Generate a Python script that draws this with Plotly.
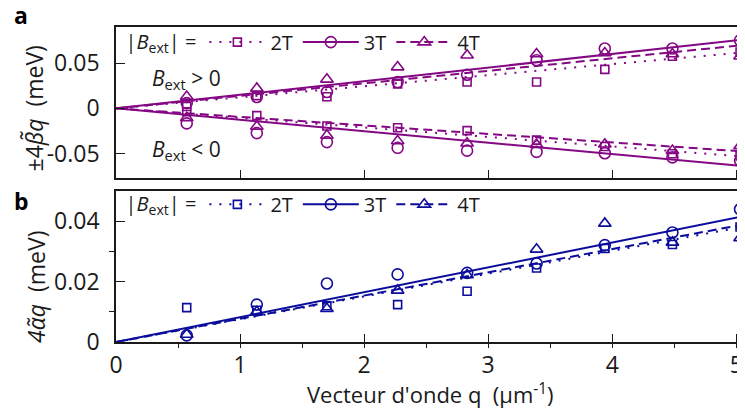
import plotly.graph_objects as go

# ---------------- data ----------------
q = [0.57, 1.135, 1.70, 2.27, 2.83, 3.39, 3.94, 4.485, 5.03]

# panel a : +/- 4 beta q (meV)
beta_pos_2T = [0.002, 0.014, 0.0128, 0.027, 0.029, 0.029, 0.043, 0.0575, 0.062]
beta_pos_3T = [0.0058, 0.0125, 0.018, 0.029, 0.037, 0.053, 0.066, 0.066, 0.075]
beta_pos_4T = [0.013, 0.022, 0.032, 0.0455, 0.0586, 0.060, 0.061, 0.060, 0.0575]
beta_neg_2T = [-0.0037, -0.0080, -0.0195, -0.0213, -0.0246, -0.035, -0.042, -0.050, -0.0524]
beta_neg_3T = [-0.0165, -0.0273, -0.0372, -0.0435, -0.0466, -0.048, -0.0495, -0.054, -0.0576]
beta_neg_4T = [-0.0105, -0.020, -0.030, -0.036, -0.0385, -0.040, -0.0396, -0.0466, -0.0414]

# fitted slopes (meV per um^-1)
slope_pos = {"2T": 0.0122, "3T": 0.0150, "4T": 0.0138}
slope_neg = {"2T": -0.0105, "3T": -0.0126, "4T": -0.0094}

# panel b : 4 alpha q (meV)
alpha_2T = [0.0114, 0.0105, 0.0120, 0.0124, 0.0168, 0.0245, 0.031, 0.0323, 0.0381]
alpha_3T = [0.0022, 0.0124, 0.0194, 0.0224, 0.0229, 0.026, 0.0321, 0.0363, 0.044]
alpha_4T = [0.0025, 0.0100, 0.0110, 0.0171, 0.0222, 0.0307, 0.0393, 0.033, 0.0345]
slope_alpha = {"2T": 0.00755, "3T": 0.00824, "4T": 0.00770}

fit_x = [0, 5.2]
x_ticks = [0, 1, 2, 3, 4, 5]
ya_ticks = [-0.05, 0, 0.05]
ya_labels = ["-0.05", "0", "0.05"]
yb_ticks = [0, 0.02, 0.04]
yb_labels = ["0", "0.02", "0.04"]

# ---------------- style ----------------
PURPLE = "#840884"
BLUE = "#0c0c9c"
FONT = "Open Sans"
INK = "#1a1a1a"
styles = {
    "2T": dict(symbol="square-open", size=8, dash="2px,8px"),
    "3T": dict(symbol="circle-open", size=11, dash="solid"),
    "4T": dict(symbol="triangle-up-open", size=11, dash="9px,5px"),
}

fig = go.Figure()

def add_panel(color, xa, ya, legend, series, slopes_list):
    for name in ["2T", "3T", "4T"]:
        st = styles[name]
        for slopes in slopes_list:
            fig.add_trace(go.Scatter(
                x=fit_x, y=[slopes[name] * v for v in fit_x], mode="lines",
                line=dict(color=color, width=2, dash=st["dash"]),
                xaxis=xa, yaxis=ya, showlegend=False, hoverinfo="skip"))
        for ys in series[name]:
            fig.add_trace(go.Scatter(
                x=q, y=ys, mode="markers",
                marker=dict(symbol=st["symbol"], size=st["size"], color=color,
                            line=dict(width=1.6, color=color)),
                xaxis=xa, yaxis=ya, showlegend=False))
        # legend entry
        fig.add_trace(go.Scatter(
            x=[None], y=[None], mode="lines+markers", name=name,
            line=dict(color=color, width=2, dash=st["dash"]),
            marker=dict(symbol=st["symbol"], size=st["size"], color=color,
                        line=dict(width=1.6, color=color)),
            xaxis=xa, yaxis=ya, legend=legend, showlegend=True))

add_panel(PURPLE, "x", "y", "legend",
          {"2T": [beta_pos_2T, beta_neg_2T], "3T": [beta_pos_3T, beta_neg_3T],
           "4T": [beta_pos_4T, beta_neg_4T]},
          [slope_pos, slope_neg])
add_panel(BLUE, "x2", "y2", "legend2",
          {"2T": [alpha_2T], "3T": [alpha_3T], "4T": [alpha_4T]},
          [slope_alpha])

axis_common = dict(showline=True, linecolor=INK, linewidth=1.6,
                   ticks="inside", tickcolor=INK, tickwidth=1.4,
                   showgrid=False, zeroline=False, automargin=False,
                   tickfont=dict(family=FONT, size=23, color=INK))

legend_common = dict(orientation="h", bgcolor="rgba(0,0,0,0)", xanchor="left",
                     yanchor="middle", itemwidth=56, traceorder="normal",
                     font=dict(family=FONT, size=20, color=INK),
                     itemclick=False)

# the page body has an 8px margin, so the figure is 8px smaller than the window
fig.update_layout(
    width=737, height=400,
    margin=dict(l=108, r=0, t=19, b=66),
    paper_bgcolor="white", plot_bgcolor="white",
    showlegend=True,
    xaxis=dict(domain=[0, 1], range=[0, 5.07], anchor="y", tickvals=x_ticks,
               showticklabels=False, ticklen=8, mirror=True, **axis_common),
    yaxis=dict(domain=[0.52, 1], range=[-0.077, 0.0897], anchor="x",
               tickvals=ya_ticks, ticktext=ya_labels, ticklen=9,
               ticklabelstandoff=10, **axis_common),
    xaxis2=dict(domain=[0, 1], range=[0, 5.07], anchor="y2", tickvals=x_ticks,
                ticklen=8, mirror=True, ticklabelstandoff=2,
                minor=dict(dtick=0.5, ticklen=4, tickcolor=INK), **axis_common),
    yaxis2=dict(domain=[0, 0.479], range=[0, 0.05], anchor="x2",
                tickvals=yb_ticks, ticktext=yb_labels, ticklen=9,
                ticklabelstandoff=10,
                minor=dict(tickvals=[0.01, 0.03], ticklen=5, tickcolor=INK),
                **axis_common),
    legend=dict(x=0.012, y=0.952,
                title=dict(text="|<i>B</i><sub>ext</sub>| =", side="left",
                           font=dict(family=FONT, size=20, color=INK)),
                **legend_common),
    legend2=dict(x=0.012, y=0.437,
                 title=dict(text="|<i>B</i><sub>ext</sub>| =", side="left",
                            font=dict(family=FONT, size=20, color=INK)),
                 **legend_common),
)

txt = dict(family=FONT, size=21, color=INK)
fig.add_annotation(text="<b>a</b>", xref="paper", yref="paper", x=-0.165, y=1.038,
                   xanchor="left", yanchor="middle", showarrow=False,
                   font=dict(family=FONT, size=23, color="black"))
fig.add_annotation(text="<b>b</b>", xref="paper", yref="paper", x=-0.165, y=0.448,
                   xanchor="left", yanchor="middle", showarrow=False,
                   font=dict(family=FONT, size=23, color="black"))
fig.add_annotation(text="<i>B</i><sub>ext</sub> > 0", xref="x", yref="y", x=0.27, y=0.032,
                   xanchor="left", yanchor="middle", showarrow=False, font=txt)
fig.add_annotation(text="<i>B</i><sub>ext</sub> < 0", xref="x", yref="y", x=0.27, y=-0.046,
                   xanchor="left", yanchor="middle", showarrow=False, font=txt)
fig.add_annotation(text="±4<i>β\u0303q</i>  (meV)", xref="paper", yref="paper",
                   x=-0.130, y=0.742, textangle=-90, showarrow=False,
                   xanchor="center", yanchor="middle", font=dict(family=FONT, size=23, color=INK))
fig.add_annotation(text="<i>4α\u0303q</i>  (meV)", xref="paper", yref="paper",
                   x=-0.127, y=0.175, textangle=-90, showarrow=False,
                   xanchor="center", yanchor="middle", font=dict(family=FONT, size=23, color=INK))
fig.add_annotation(text="Vecteur d'onde q  (µm<sup>-1</sup>)", xref="paper", yref="paper",
                   x=0.5, y=-0.165, showarrow=False, xanchor="center", yanchor="middle",
                   font=dict(family=FONT, size=22, color=INK))

fig.write_html("out.html")
